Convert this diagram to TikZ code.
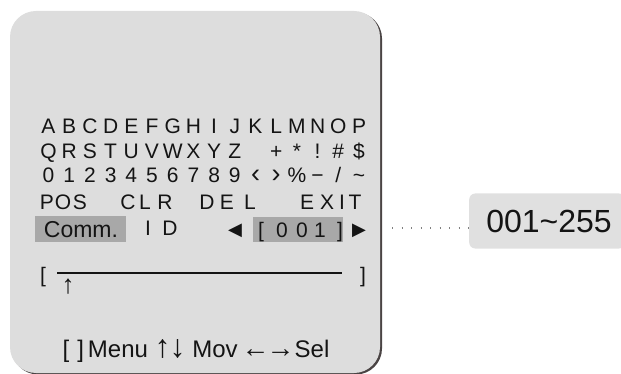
\documentclass[tikz,border=0pt]{standalone}
\usepackage{fontspec}
\setmainfont{Liberation Sans}
\newfontfamily\symfont{DejaVu Sans}
\usetikzlibrary{positioning}
\definecolor{panelgray}{HTML}{DDDDDD}
\definecolor{shadowgray}{HTML}{4A4444}
\definecolor{selgray}{HTML}{A8A8A8}
\definecolor{rangegray}{HTML}{E0E0E0}
\definecolor{inkgray}{HTML}{141414}
\tikzstyle{panelbox} = [rectangle, rounded corners=26pt, minimum width=370pt, minimum height=362pt, inner sep=0pt, fill=panelgray]
\tikzstyle{osd} = [inner sep=0pt, anchor=base, text=inkgray, font=\fontsize{21}{21}\selectfont]
\tikzstyle{selbox} = [rectangle, inner sep=0pt, fill=selgray]
\tikzstyle{rangebox} = [rectangle, rounded corners=6pt, inner sep=0pt, fill=rangegray, minimum width=156pt, minimum height=55pt]
\tikzstyle{dotline} = [line width=1.3pt, gray, dash pattern=on 1.3pt off 8.2pt]

\begin{document}
\begin{tikzpicture}[x=1pt, y=-1pt]
\useasboundingbox (0,0) rectangle (621,374);
% screen
\node (shadow) [panelbox, fill=shadowgray] at (197,193.5) {};
\node (panel) [panelbox] at (195,192) {};

% character table
\foreach \c [count=\i from 0] in {A,B,C,D,E,F,G,H,I,J,K,L,M,N,O,P}
  \node (ra\i) [osd] at (48.5+20.7*\i,134) {\c};
\foreach \c [count=\i from 0] in {Q,R,S,T,U,V,W,X,Y,Z,{},+,*,!,\#,\$}
  \node (rb\i) [osd] at (48.5+20.7*\i,159) {\c};
\foreach \c [count=\i from 0] in {0,1,2,3,4,5,6,7,8,9,{\fontsize{27}{27}\selectfont‹},{\fontsize{27}{27}\selectfont›},\%,−,/,\textasciitilde}
  \node (rc\i) [osd] at (48.5+20.7*\i,183) {\c};
\foreach \x/\c [count=\i from 0] in {47/P,63/O,80/S,128/C,145/L,165/R,207/D,227/E,250/L,307/E,327/X,342/I,355/T}
  \node (rd\i) [osd] at (\x,210) {\c};

% camera id line
\node (commsel) [selbox, minimum width=91pt, minimum height=26pt] at (80.5,229) {};
\node (comm) [osd, font=\fontsize{23}{23}\selectfont] at (81,237) {Comm.};
\node (idI) [osd] at (148,236) {I};
\node (idD) [osd] at (170,236) {D};
\node (idsel) [selbox, minimum width=90pt, minimum height=25pt] at (298,229.5) {};
\node (left) [osd, font=\symfont\fontsize{18}{18}\selectfont] at (235,236) {◀};
\node (right) [osd, font=\symfont\fontsize{18}{18}\selectfont] at (359,236) {▶};
\foreach \x/\c [count=\i from 0] in {261/[,282/0,302/0,320/1,340/]}
  \node (id\i) [osd] at (\x,237) {\c};

% name line
\node (lb) [osd] at (43,282) {[};
\node (rb) [osd] at (363,282) {]};
\draw [line width=1.2pt, inkgray] (57,273) -- (342,273);
\node (cursor) [osd, font=\fontsize{26}{26}\selectfont] at (68,293) {↑};

% help line
\node (help) [osd, font=\fontsize{24}{24}\selectfont] at (196,357)
  {[\,\,]\,Menu {\fontsize{32}{32}\selectfont↑\kern-1pt↓} Mov\,{\fontsize{28}{28}\selectfont←\kern-3pt→}Sel};

% value range
\node (range) [rangebox, anchor=west] at (469,221) {};
\node (rangetxt) [osd, font=\fontsize{32}{32}\selectfont] at (549,233) {001\textasciitilde 255};
\coordinate (dotstart) at (392,228);
\draw [dotline] (dotstart) -- (range.west |- dotstart);
\end{tikzpicture}
\end{document}
